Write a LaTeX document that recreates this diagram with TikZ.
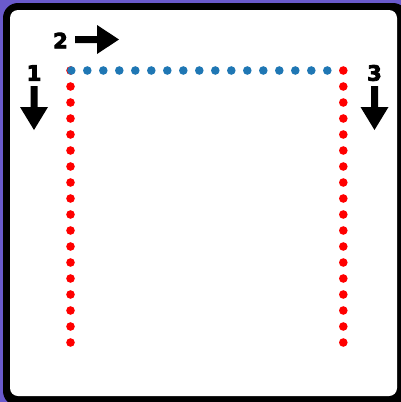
\documentclass[tikz,border=0pt]{standalone}
\usepackage{fontspec}
\setmainfont{DejaVu Sans}
\newfontfamily\heavyfont{DejaVu Sans Bold}[FakeBold=4]
\definecolor{bgpurple}{HTML}{6A5ACD}
\definecolor{dotred}{HTML}{FF0000}
\definecolor{dotblue}{HTML}{1F77B4}
\tikzset{
  lbl/.style={font=\heavyfont\fontsize{21}{21}\selectfont, inner sep=0pt, text=black},
  reddot/.style={fill=dotred, draw=none},
  bluedot/.style={fill=dotblue, draw=none},
  arrowshape/.style={fill=black, draw=none}
}
\begin{document}
\begin{tikzpicture}[x=1pt,y=-1pt]
\useasboundingbox (0,0) rectangle (401,402);
\fill[bgpurple] (0,0) rectangle (401,402);
\fill[black, rounded corners=15pt] (3,3) rectangle (408,406);
\fill[white, rounded corners=8pt] (10,10) rectangle (397,396);
% left red column
\foreach \k in {0,...,17} \fill[reddot] (70.5,70.5+16*\k) circle (4.3);
% blue row
\foreach \k in {0,...,16} \fill[bluedot] (71.3+16*\k,70.5) circle (4.3);
% right red column
\foreach \k in {0,...,17} \fill[reddot] (343.3,70.5+16*\k) circle (4.3);
% labels
\node[lbl] (n1) at (34,73) {1};
\node[lbl] (n2) at (60.5,40.5) {2};
\node[lbl] (n3) at (374.5,73) {3};
% arrows
\fill[arrowshape] (30.5,86) -- (37.5,86) -- (37.5,107) -- (48,107) -- (34,130) -- (20,107) -- (30.5,107) -- cycle;
\fill[arrowshape] (75,36) -- (97,36) -- (97,25) -- (119,39.5) -- (97,54) -- (97,43) -- (75,43) -- cycle;
\fill[arrowshape] (371,86) -- (378,86) -- (378,107) -- (388.5,107) -- (374.5,130) -- (360.5,107) -- (371,107) -- cycle;
\end{tikzpicture}
\end{document}
